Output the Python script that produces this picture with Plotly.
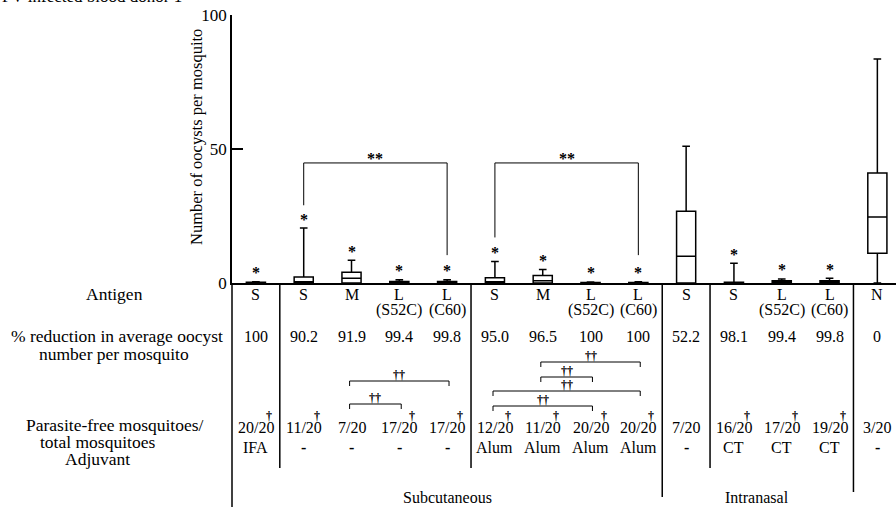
import plotly.graph_objects as go

# ---------------- data ----------------
antigen = ["S", "S", "M", "L", "L", "S", "M", "L", "L", "S", "S", "L", "L", "N"]
antigen_sub = ["", "", "", "(S52C)", "(C60)", "", "", "(S52C)", "(C60)", "", "", "(S52C)", "(C60)", ""]
reduction = ["100", "90.2", "91.9", "99.4", "99.8", "95.0", "96.5", "100", "100", "52.2", "98.1", "99.4", "99.8", "0"]
parasite_free = ["20/20", "11/20", "7/20", "17/20", "17/20", "12/20", "11/20", "20/20", "20/20", "7/20", "16/20", "17/20", "19/20", "3/20"]
dagger = [1, 1, 0, 1, 1, 1, 1, 1, 1, 0, 1, 1, 1, 0]
adjuvant = ["IFA", "-", "-", "-", "-", "Alum", "Alum", "Alum", "Alum", "-", "CT", "CT", "CT", "-"]

# box statistics (oocysts per mosquito)
q1 = [0, 0, 0, 0, 0, 0, 0, 0, 0, 0, 0, 0, 0, 11.1]
median = [0, 0.5, 1.8, 0.2, 0.2, 0.5, 0.8, 0, 0, 10, 0, 0.3, 0.3, 24.6]
q3 = [0.3, 2.2, 4.0, 0.6, 0.6, 2.0, 2.8, 0.2, 0.2, 26.8, 0.3, 0.8, 0.8, 41.0]
lowerfence = [0, 0, 0, 0, 0, 0, 0, 0, 0, 0, 0, 0, 0, 0]
upperfence = [0.5, 20.5, 8.5, 1.2, 1.2, 8.0, 5.0, 0.4, 0.5, 51.0, 7.4, 1.5, 1.8, 83.6]
signif = [1, 1, 1, 1, 1, 1, 1, 1, 1, 0, 1, 1, 1, 0]

# "**" comparisons (column pairs) and bracket arm bottoms
star_pairs = [(1, 4), (5, 8)]
star_level = 44.8
star_arm_bottom = [(29.0, 10.4), (17.0, 10.4)]

# "††" comparisons in the table (column pairs)
dag_pairs = [(2, 4), (2, 3), (6, 8), (6, 7), (5, 8), (5, 7)]
dag_rows_px = [381, 404, 362, 377, 391, 406]

row_labels = ["Antigen", "% reduction in average oocyst", "number per mosquito",
              "Parasite-free mosquitoes/", "total mosquitoes", "Adjuvant"]
groups = ["Subcutaneous", "Intranasal"]
separators = [-0.5, 0.5, 4.5, 8.5, 9.5, 12.5]
separator_bottom_px = [507, 468, 468, 497, 468, 492]

# ---------------- layout geometry ----------------
W, H = 896, 509
L_M, R_M, T_M = 232, 0, 15
PLOT_BOTTOM = 283
XR = [-0.5, 13.39]
FONT = "Liberation Serif, DejaVu Serif, Times New Roman, serif"


def py(pix):
    return (PLOT_BOTTOM - pix) / (PLOT_BOTTOM - T_M)


def pxv(v):
    return (v - XR[0]) / (XR[1] - XR[0])


def pxpix(pix):
    return (pix - L_M) / (W - L_M - R_M)


fig = go.Figure()

for i in range(len(antigen)):
    fig.add_trace(go.Box(
        x=[i], q1=[q1[i]], median=[median[i]], q3=[q3[i]],
        lowerfence=[lowerfence[i]], upperfence=[upperfence[i]],
        width=0.4, whiskerwidth=0.4, fillcolor="white",
        line=dict(color="black", width=1.5), boxpoints=False,
        showlegend=False, hoverinfo="skip"))

ann = []
shapes = []

# asterisks
for i in range(len(antigen)):
    if signif[i]:
        ann.append(dict(x=i, y=upperfence[i], xref="x", yref="y", text="<b>*</b>",
                        showarrow=False, xanchor="center", yanchor="middle", yshift=9,
                        font=dict(family=FONT, size=16, color="black")))

# "**" brackets
for (a, b), (ya, yb) in zip(star_pairs, star_arm_bottom):
    shapes.append(dict(type="path", xref="x", yref="y",
                       path=f"M {a} {ya} L {a} {star_level} L {b} {star_level} L {b} {yb}",
                       line=dict(color="black", width=1)))
    ann.append(dict(x=(a + b) / 2, y=star_level, xref="x", yref="y", text="<b>**</b>",
                    showarrow=False, xanchor="center", yanchor="bottom", yshift=-6,
                    font=dict(family=FONT, size=16, color="black")))


def txt(x, ypix, s, size=16, xref="x", xanchor="center"):
    ann.append(dict(x=x, y=py(ypix), xref=xref, yref="paper", text=s,
                    showarrow=False, xanchor=xanchor, yanchor="middle",
                    font=dict(family=FONT, size=size, color="black")))


for i in range(len(antigen)):
    txt(i, 294, antigen[i])
    if antigen_sub[i]:
        txt(i, 310, antigen_sub[i])
    txt(i, 336, reduction[i])
    txt(i, 428, parasite_free[i])
    if dagger[i]:
        ann.append(dict(x=i, y=py(428), xref="x", yref="paper", text="<b>†</b>",
                        showarrow=False, xanchor="center", yanchor="bottom",
                        xshift=13, yshift=3,
                        font=dict(family=FONT, size=12, color="black")))
    a_txt = "<b>-</b>" if adjuvant[i] == "-" else adjuvant[i]
    txt(i, 448, a_txt)

# row labels
txt(pxpix(114), 294, row_labels[0], size=17.5, xref="paper")
txt(pxpix(117), 336, row_labels[1], size=17.5, xref="paper")
txt(pxpix(114), 354, row_labels[2], size=17.5, xref="paper")
txt(pxpix(115), 425, row_labels[3], size=17.5, xref="paper")
txt(pxpix(97), 442, row_labels[4], size=17.5, xref="paper")
txt(pxpix(97), 459, row_labels[5], size=17.5, xref="paper")

# group labels
txt(pxpix(447), 497, groups[0], xref="paper")
txt(pxpix(757), 497, groups[1], xref="paper")

# separators
for s, b in zip(separators, separator_bottom_px):
    shapes.append(dict(type="line", xref="paper", yref="paper",
                       x0=pxv(s), x1=pxv(s), y0=0, y1=py(b),
                       line=dict(color="black", width=1.5)))

# "††" brackets
for (a, b), rp in zip(dag_pairs, dag_rows_px):
    xa, xb = pxv(a - 0.04), pxv(b + 0.04)
    shapes.append(dict(type="path", xref="paper", yref="paper",
                       path=f"M {xa} {py(rp + 5)} L {xa} {py(rp)} L {xb} {py(rp)} L {xb} {py(rp + 5)}",
                       line=dict(color="black", width=1)))
    ann.append(dict(x=(a + b) / 2, y=py(rp), xref="x", yref="paper", text="<b>††</b>",
                    showarrow=False, xanchor="center", yanchor="bottom", yshift=-3,
                    font=dict(family=FONT, size=12, color="black")))

# y-axis title and figure title
ann.append(dict(x=pxpix(196), y=py(137), xref="paper", yref="paper",
                text="Number of oocysts per mosquito", textangle=-90,
                xanchor="center", yanchor="middle",
                showarrow=False, font=dict(family=FONT, size=16.5, color="black")))
ann.append(dict(x=pxpix(0), y=py(8), xref="paper", yref="paper",
                text="PV-infected blood donor 1", xanchor="left", yanchor="bottom",
                showarrow=False, font=dict(family=FONT, size=17, color="black")))

fig.update_layout(
    width=W, height=H,
    margin=dict(l=L_M, r=R_M, t=T_M, b=H - PLOT_BOTTOM, pad=0),
    paper_bgcolor="white", plot_bgcolor="white",
    annotations=ann, shapes=shapes,
    xaxis=dict(range=XR, showticklabels=False, ticks="", showgrid=False,
               zeroline=False, showline=True, linecolor="black", linewidth=1.5),
    yaxis=dict(range=[0, 100], tickvals=[0, 50, 100], ticks="inside", ticklen=11,
               tickwidth=1.5, tickcolor="black", showgrid=False, zeroline=False,
               showline=True, linecolor="black", linewidth=1.5,
               tickfont=dict(family=FONT, size=17, color="black")),
)

fig.write_html("out.html", config={"displayModeBar": False},
               post_script="document.body.style.margin='0px';")
